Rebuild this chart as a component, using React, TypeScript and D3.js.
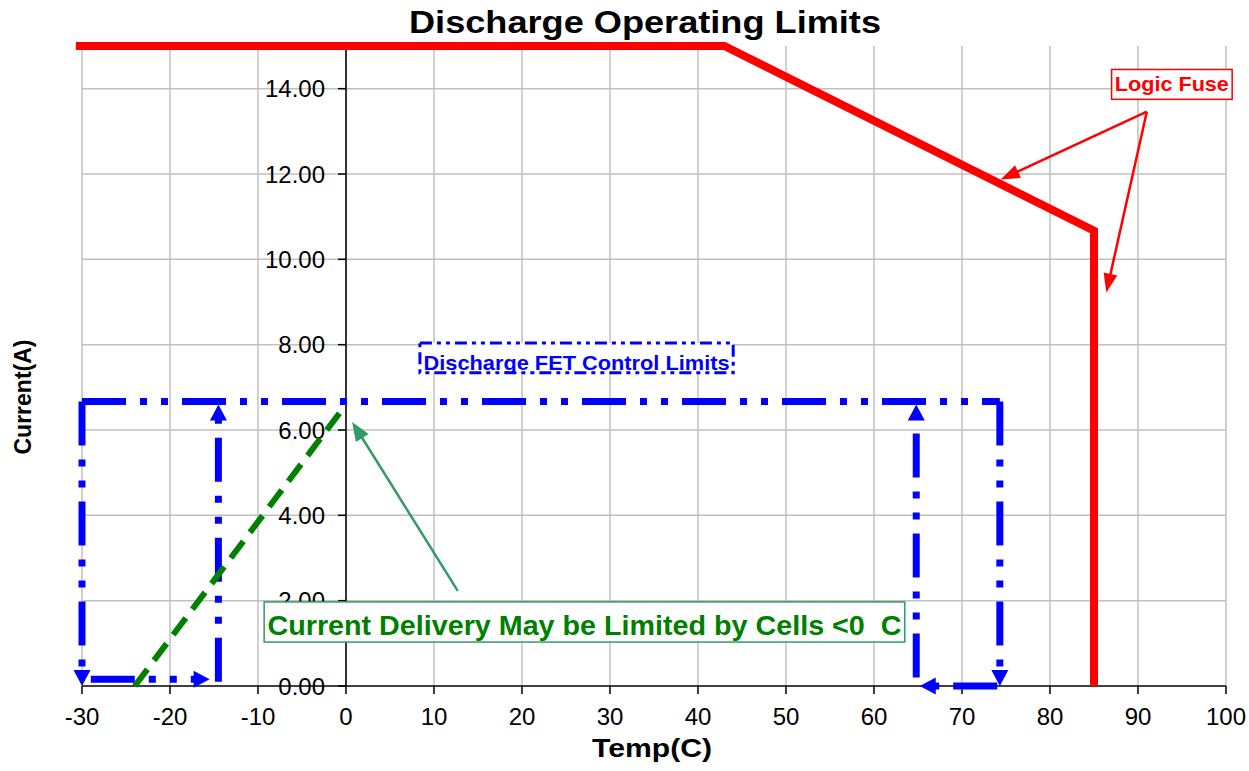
import React from 'react';
import * as d3 from 'd3';

// ─── data ──────────────────────────────────────────────────────────────────
const X_TICKS = [-30, -20, -10, 0, 10, 20, 30, 40, 50, 60, 70, 80, 90, 100];
const Y_TICKS = [0, 2, 4, 6, 8, 10, 12, 14];

// logic fuse limit (red)
const fuseTemp = [-30.7, 43, 85, 85];
const fuseCurrent = [15, 15, 10.67, 0];

// discharge FET control limits (blue), each a two-point run, arrow at end if set
const fetRuns: Array<{ t: [number, number]; a: [number, number]; head: boolean }> = [
  { t: [-30, 74.3], a: [6.67, 6.67], head: false },
  { t: [-30, -30], a: [6.67, 0], head: true },
  { t: [-29, -15.5], a: [0.16, 0.16], head: true },
  { t: [-14.5, -14.5], a: [0.1, 6.6], head: true },
  { t: [74.3, 74.3], a: [6.67, 0], head: true },
  { t: [74, 65.2], a: [0, 0], head: true },
  { t: [64.8, 64.8], a: [0.2, 6.6], head: true },
];

// cell-limited ramp (green dashed)
const cellTemp = [-24, 0];
const cellCurrent = [0, 6.6];

// annotations, in chart units
const fuseNote = { t0: 87, t1: 100.7, a0: 14.45, a1: 13.75, from: [91, 13.46], tips: [[74.4, 11.87], [86.4, 9.22]] };
const fetNote = { t0: 8.4, t1: 44, a0: 8.04, a1: 7.34 };
const cellNote = { t0: -9.3, t1: 63.5, a0: 1.97, a1: 1.03, from: [12.7, 2.23], tip: [0.7, 6.19] };

const FONT = "'Liberation Sans', Arial, Helvetica, sans-serif";
const W = 1249;
const H = 771;

const x = d3.scaleLinear().domain([-30, 100]).range([82, 1226]);
const y = d3.scaleLinear().domain([0, 15]).range([686, 46]);

function arrow(x1: number, y1: number, x2: number, y2: number, len: number, wid: number) {
  const dx = x2 - x1;
  const dy = y2 - y1;
  const d = Math.hypot(dx, dy) || 1;
  const ux = dx / d;
  const uy = dy / d;
  const bx = x2 - ux * len;
  const by = y2 - uy * len;
  const px = -uy * (wid / 2);
  const py = ux * (wid / 2);
  return {
    line: [x1, y1, x2 - ux * len * 0.8, y2 - uy * len * 0.8],
    head: `M${x2},${y2}L${bx + px},${by + py}L${bx - px},${by - py}Z`,
  };
}

export default function App() {
  const fuseLine = d3
    .line<number>()
    .x((_, i) => x(fuseTemp[i]))
    .y((_, i) => y(fuseCurrent[i]))(fuseTemp);

  const blue = '#0000ff';
  const green = '#008000';
  const sea = '#339966';
  const red = '#ff0000';

  return (
    <svg
      width={W}
      height={H}
      style={{ position: 'absolute', left: 0, top: 0, background: '#fff' }}
      fontFamily={FONT}
    >
      <rect width={W} height={H} fill="#fff" />

      {/* grid */}
      {X_TICKS.map(t => (
        <line key={'gx' + t} x1={x(t)} x2={x(t)} y1={y(15)} y2={y(0)} stroke="#c0c0c0" strokeWidth={1.5} />
      ))}
      {Y_TICKS.filter(t => t > 0).map(t => (
        <line key={'gy' + t} x1={x(-30)} x2={x(100)} y1={y(t)} y2={y(t)} stroke="#c0c0c0" strokeWidth={1.5} />
      ))}

      {/* y axis through 0 °C */}
      <line x1={x(0)} x2={x(0)} y1={y(15)} y2={y(0)} stroke="#000" strokeWidth={1.5} />
      {Y_TICKS.map(t => (
        <g key={'yt' + t}>
          <line x1={x(0) - 8} x2={x(0)} y1={y(t)} y2={y(t)} stroke="#000" strokeWidth={1.5} />
          <text x={x(0) - 21} y={y(t) + 8.5} fontSize={24} textAnchor="end" fill="#000">
            {t.toFixed(2)}
          </text>
        </g>
      ))}

      {/* x axis */}
      <line x1={x(-30)} x2={x(100)} y1={y(0)} y2={y(0)} stroke="#000" strokeWidth={1.5} />
      {X_TICKS.map(t => (
        <g key={'xt' + t}>
          <line x1={x(t)} x2={x(t)} y1={y(0)} y2={y(0) + 8} stroke="#000" strokeWidth={1.5} />
          <text x={x(t)} y={y(0) + 39} fontSize={24} textAnchor="middle" fill="#000">
            {t}
          </text>
        </g>
      ))}

      {/* FET control limits */}
      {fetRuns.map((r, i) => {
        const x1 = x(r.t[0]);
        const y1 = y(r.a[0]);
        const x2 = x(r.t[1]);
        const y2 = y(r.a[1]);
        if (!r.head) {
          return (
            <line key={'fet' + i} x1={x1} y1={y1} x2={x2} y2={y2} stroke={blue} strokeWidth={7} strokeDasharray="44 14 7 14 7 14" />
          );
        }
        const a = arrow(x1, y1, x2, y2, 16, 17);
        return (
          <g key={'fet' + i}>
            <line x1={a.line[0]} y1={a.line[1]} x2={a.line[2]} y2={a.line[3]} stroke={blue} strokeWidth={7} strokeDasharray="44 14 7 14 7 14" />
            <path d={a.head} fill={blue} />
          </g>
        );
      })}

      {/* cell-limited ramp */}
      <line
        x1={x(cellTemp[0])}
        y1={y(cellCurrent[0])}
        x2={x(cellTemp[1])}
        y2={y(cellCurrent[1])}
        stroke={green}
        strokeWidth={6}
        strokeDasharray="21 11"
      />

      {/* logic fuse */}
      <path d={fuseLine ?? undefined} fill="none" stroke={red} strokeWidth={8} strokeLinejoin="miter" />

      {/* fuse note */}
      {fuseNote.tips.map((tp, i) => {
        const a = arrow(x(fuseNote.from[0]), y(fuseNote.from[1]), x(tp[0]), y(tp[1]), 19, 14);
        return (
          <g key={'fa' + i}>
            <line x1={a.line[0]} y1={a.line[1]} x2={a.line[2]} y2={a.line[3]} stroke={red} strokeWidth={2.5} />
            <path d={a.head} fill={red} />
          </g>
        );
      })}
      <rect
        x={x(fuseNote.t0)}
        y={y(fuseNote.a0)}
        width={x(fuseNote.t1) - x(fuseNote.t0)}
        height={y(fuseNote.a1) - y(fuseNote.a0)}
        fill="#fff"
        stroke={red}
        strokeWidth={1.5}
      />
      <text
        x={(x(fuseNote.t0) + x(fuseNote.t1)) / 2}
        y={y(fuseNote.a1) - 8}
        fontSize={20}
        fontWeight="bold"
        fill={red}
        textAnchor="middle"
        textLength={114}
        lengthAdjust="spacingAndGlyphs"
      >
        Logic Fuse
      </text>

      {/* FET note */}
      <rect
        x={x(fetNote.t0)}
        y={y(fetNote.a0)}
        width={x(fetNote.t1) - x(fetNote.t0)}
        height={y(fetNote.a1) - y(fetNote.a0)}
        fill="#fff"
        stroke={blue}
        strokeWidth={3}
        strokeDasharray="12 5 4 5 4 5"
      />
      <text
        x={(x(fetNote.t0) + x(fetNote.t1)) / 2}
        y={y(fetNote.a1) - 3}
        fontSize={21}
        fontWeight="bold"
        fill={blue}
        textAnchor="middle"
        textLength={306}
        lengthAdjust="spacingAndGlyphs"
      >
        Discharge FET Control Limits
      </text>

      {/* cell note */}
      {(() => {
        const a = arrow(x(cellNote.from[0]), y(cellNote.from[1]), x(cellNote.tip[0]), y(cellNote.tip[1]), 19, 15);
        return (
          <g>
            <line x1={a.line[0]} y1={a.line[1]} x2={a.line[2]} y2={a.line[3]} stroke={sea} strokeWidth={2.5} />
            <path d={a.head} fill={sea} />
          </g>
        );
      })()}
      <rect
        x={x(cellNote.t0)}
        y={y(cellNote.a0)}
        width={x(cellNote.t1) - x(cellNote.t0)}
        height={y(cellNote.a1) - y(cellNote.a0)}
        fill="#fff"
        stroke={sea}
        strokeWidth={1.5}
      />
      <text
        x={(x(cellNote.t0) + x(cellNote.t1)) / 2}
        y={y(cellNote.a1) - 7}
        fontSize={28}
        fontWeight="bold"
        fill={green}
        textAnchor="middle"
        textLength={634}
        lengthAdjust="spacingAndGlyphs"
        style={{ whiteSpace: 'pre' }}
      >
        {'Current Delivery May be Limited by Cells <0  C'}
      </text>

      {/* titles */}
      <text x={645} y={33} fontSize={31} fontWeight="bold" textAnchor="middle" fill="#000" textLength={472} lengthAdjust="spacingAndGlyphs">
        Discharge Operating Limits
      </text>
      <text x={652} y={757} fontSize={26} fontWeight="bold" textAnchor="middle" fill="#000" textLength={120} lengthAdjust="spacingAndGlyphs">
        Temp(C)
      </text>
      <text
        transform="translate(31,397) rotate(-90)"
        fontSize={24}
        fontWeight="bold"
        textAnchor="middle"
        fill="#000"
        textLength={115}
        lengthAdjust="spacingAndGlyphs"
      >
        Current(A)
      </text>
    </svg>
  );
}
